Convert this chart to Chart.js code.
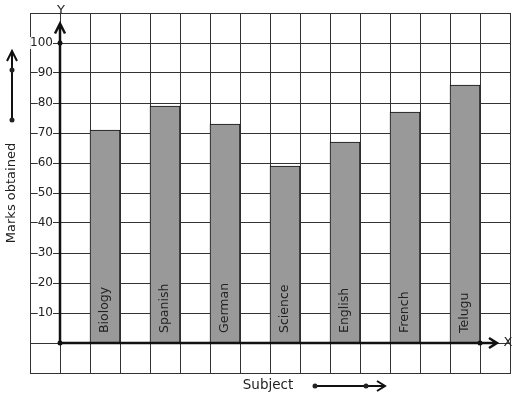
<!DOCTYPE html>
<html>
<head>
<meta charset="utf-8">
<script src="https://cdn.jsdelivr.net/npm/chart.js@4.4.0/dist/chart.umd.min.js"></script>
<style>
  body { margin: 0; background: #fff; }
  canvas { display: block; }
</style>
</head>
<body>
<canvas id="marksChart" width="517" height="399"></canvas>
<script>
const subjects = ['Biology', 'Spanish', 'German', 'Science', 'English', 'French', 'Telugu'];
const marks = [71, 79, 73, 59, 67, 77, 86];
const yTicks = [10, 20, 30, 40, 50, 60, 70, 80, 90, 100];

// the grid has 16 columns; every second one from column 2 holds a bar
const cellCount = 16;
const labels = [];
const values = [];
for (let i = 0; i < cellCount; i++) {
  const k = (i - 2) / 2;
  if (i >= 2 && i % 2 === 0 && k < subjects.length) {
    labels.push(subjects[k]);
    values.push(marks[k]);
  } else {
    labels.push('');
    values.push(null);
  }
}

const ink = '#111';

function dot(ctx, x, y) {
  ctx.beginPath();
  ctx.arc(x, y, 2.5, 0, Math.PI * 2);
  ctx.fill();
}

const decorations = {
  id: 'decorations',
  afterDatasetsDraw(chart) {
    const { ctx, chartArea, scales } = chart;
    const x = scales.x, y = scales.y;
    const cell = x.getPixelForValue(1) - x.getPixelForValue(0);
    const ox = x.getPixelForValue(0) + cell / 2;
    const oy = y.getPixelForValue(0);
    ctx.save();

    // y tick labels, right aligned and sitting on the grid lines
    ctx.font = '12px "DejaVu Sans"';
    ctx.textAlign = 'right';
    ctx.textBaseline = 'middle';
    yTicks.forEach((v) => {
      const py = y.getPixelForValue(v);
      const txt = String(v);
      const w = ctx.measureText(txt).width;
      ctx.fillStyle = '#fff';
      ctx.fillRect(ox - 7 - w, py - 6, w, 12);
      ctx.fillStyle = '#222';
      ctx.fillText(txt, ox - 7, py);
    });

    ctx.strokeStyle = ink;
    ctx.fillStyle = ink;
    ctx.lineWidth = 2.5;

    // y axis with arrow
    const yTop = y.getPixelForValue(106.5);
    ctx.beginPath();
    ctx.moveTo(ox, oy);
    ctx.lineTo(ox, yTop);
    ctx.moveTo(ox - 5, yTop + 10);
    ctx.lineTo(ox, yTop);
    ctx.lineTo(ox + 5, yTop + 10);
    ctx.stroke();
    dot(ctx, ox, y.getPixelForValue(100));
    dot(ctx, ox, oy);

    // x axis with arrow
    const xEnd = chartArea.right - 13;
    ctx.beginPath();
    ctx.moveTo(ox, oy);
    ctx.lineTo(xEnd, oy);
    ctx.moveTo(xEnd - 8, oy - 5);
    ctx.lineTo(xEnd, oy);
    ctx.lineTo(xEnd - 8, oy + 5);
    ctx.stroke();
    dot(ctx, chartArea.right - cell, oy);

    // subject names inside the bars
    ctx.fillStyle = '#222';
    ctx.font = '12.5px "DejaVu Sans"';
    ctx.textAlign = 'left';
    ctx.textBaseline = 'middle';
    labels.forEach((name, i) => {
      if (!name) return;
      ctx.save();
      ctx.translate(x.getPixelForValue(i) - 0.5, oy - 10);
      ctx.rotate(-Math.PI / 2);
      ctx.fillText(name, 0, 0);
      ctx.restore();
    });

    // axis letters
    ctx.font = '13px "DejaVu Sans"';
    ctx.textAlign = 'center';
    ctx.fillText('Y', ox + 1, chartArea.top - 2);
    ctx.fillText('X', chartArea.right - 2, oy);

    // axis titles
    ctx.font = '13.5px "DejaVu Sans"';
    ctx.fillText('Subject', 268, 385);
    ctx.save();
    ctx.translate(12, 193);
    ctx.rotate(-Math.PI / 2);
    ctx.font = '13px "DejaVu Sans"';
    ctx.fillText('Marks obtained', 0, 0);
    ctx.restore();

    // direction arrows beside the titles
    ctx.lineWidth = 2;
    ctx.beginPath();
    ctx.moveTo(12, 120);
    ctx.lineTo(12, 51);
    ctx.moveTo(7, 61);
    ctx.lineTo(12, 51);
    ctx.lineTo(17, 61);
    ctx.stroke();
    dot(ctx, 12, 70);
    dot(ctx, 12, 120);

    ctx.beginPath();
    ctx.moveTo(315, 386);
    ctx.lineTo(385, 386);
    ctx.moveTo(377, 381);
    ctx.lineTo(385, 386);
    ctx.lineTo(377, 391);
    ctx.stroke();
    dot(ctx, 315, 386);
    dot(ctx, 366, 386);
    ctx.restore();
  }
};

new Chart(document.getElementById('marksChart'), {
  type: 'bar',
  data: {
    labels: labels,
    datasets: [{
      label: 'Marks obtained',
      data: values,
      backgroundColor: '#999999',
      borderColor: '#111',
      borderWidth: 1,
      barPercentage: 1,
      categoryPercentage: 1
    }]
  },
  options: {
    responsive: false,
    animation: false,
    events: [],
    layout: { padding: { left: 30, top: 13, right: 7, bottom: 26 } },
    plugins: {
      legend: { display: false },
      tooltip: { enabled: false }
    },
    scales: {
      x: {
        grid: { color: '#333', lineWidth: 1, drawTicks: false },
        border: { color: '#333' },
        ticks: { display: false }
      },
      y: {
        min: -10,
        max: 110,
        grid: { color: '#333', lineWidth: 1, drawTicks: false },
        border: { color: '#333' },
        ticks: { stepSize: 10, display: false }
      }
    }
  },
  plugins: [decorations]
});
</script>
</body>
</html>
